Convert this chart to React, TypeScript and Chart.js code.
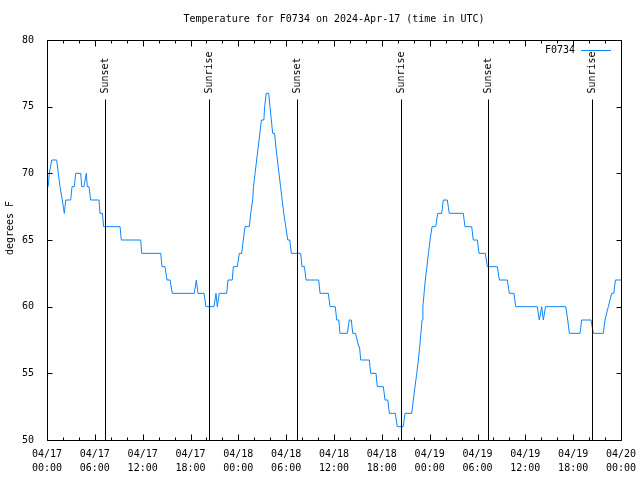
import React, { useEffect, useRef } from "react";
import { Chart, registerables } from "chart.js";

Chart.register(...registerables);

// Hours since 2024-04-17 00:00 UTC
const hours = [
  0.15, 0.29, 0.59, 1.22, 1.42, 1.63, 1.92, 2.17, 2.35, 2.97, 3.14, 3.42, 3.6, 4.23, 4.35, 4.64, 4.93, 5.06, 5.27, 5.48,
  6.52, 6.65, 6.95, 7.1, 9.16, 9.32, 11.75, 11.88, 14.26, 14.43, 14.8, 15.05, 15.43, 15.72, 18.48, 18.73, 18.94, 19.69,
  19.94, 20.95, 21.2, 21.36, 21.6, 22.54, 22.7, 23.24, 23.37, 23.87, 24.12, 24.42, 24.62, 24.84, 25.38, 25.55, 25.8,
  25.9, 26.1, 26.3, 26.5, 26.7, 26.9, 27.2, 27.3, 27.5, 27.81, 27.97, 28.14, 28.31, 28.55, 28.7, 28.9, 29.1, 29.3,
  29.5, 29.7, 29.95, 30.2, 30.45, 30.65, 31.82, 31.99, 32.3, 32.49, 34.08, 34.25, 35.29, 35.5, 36.16, 36.34, 36.6,
  36.75, 37.67, 37.92, 38.17, 38.35, 38.7, 39.1, 39.2, 39.35, 40.43, 40.6, 41.27, 41.43, 42.19, 42.4, 42.75, 42.94,
  43.69, 43.94, 44.69, 44.91, 45.75, 45.95, 46.16, 46.38, 46.58, 46.75, 46.9, 47.05, 47.15, 47.3, 47.45, 47.65, 47.85,
  48.05, 48.3, 48.76, 49.01, 49.51, 49.71, 50.21, 50.46, 52.22, 52.43, 53.27, 53.47, 53.98, 54.19, 54.98, 55.23, 56.49,
  56.74, 57.74, 57.99, 58.58, 58.79, 61.5, 61.75, 62.05, 62.26, 62.53, 65.07, 65.32, 65.52, 66.86, 67.07, 68.24, 68.53,
  69.78, 69.99, 70.41, 70.83, 71.1, 71.3, 72.0,
];
const temps = [
  69, 70, 71, 71, 70, 69, 68, 67, 68, 68, 69, 69, 70, 70, 69, 69, 70, 69, 69, 68,
  68, 67, 67, 66, 66, 65, 65, 64, 64, 63, 63, 62, 62, 61, 61, 62, 61, 61,
  60, 60, 61, 60, 61, 61, 62, 62, 63, 63, 64, 64, 65, 66, 66, 67, 68,
  69, 70, 71, 72, 73, 74, 74, 75, 76, 76, 75, 74, 73, 73, 72, 71, 70, 69,
  68, 67, 66, 65, 65, 64, 64, 63, 63, 62, 62, 61, 61, 60, 60, 59, 59,
  58, 58, 59, 59, 58, 58, 57, 57, 56, 56, 55, 55, 54, 54, 53, 53, 52,
  52, 51, 51, 52, 52, 53, 54, 55, 56, 57, 58, 59, 60, 61, 62, 63, 64,
  65, 66, 66, 67, 67, 68, 68, 67, 67, 66, 66, 65, 65, 64, 64, 63, 63,
  62, 62, 61, 61, 60, 60, 59, 60, 59, 60, 60, 59, 58, 58, 59, 59, 58,
  58, 59, 60, 61, 61, 62, 62,
];

const eventHours = [7.28, 20.35, 31.3, 44.35, 55.3, 68.35];
const eventLabels = ["Sunset", "Sunrise", "Sunset", "Sunrise", "Sunset", "Sunrise"];

const xTickValues = [0, 6, 12, 18, 24, 30, 36, 42, 48, 54, 60, 66, 72];
const xTickDates = ["04/17", "04/17", "04/17", "04/17", "04/18", "04/18", "04/18", "04/18", "04/19", "04/19", "04/19", "04/19", "04/20"];
const xTickTimes = ["00:00", "06:00", "12:00", "18:00", "00:00", "06:00", "12:00", "18:00", "00:00", "06:00", "12:00", "18:00", "00:00"];
const yTickValues = [50, 55, 60, 65, 70, 75, 80];

const seriesName = "F0734";
const titleText = "Temperature for F0734 on 2024-Apr-17 (time in UTC)";
const yTitle = "degrees F";

const FONT = "'DejaVu Sans Mono', monospace";
const LINE_COLOR = "#0a84ff";

const overlay = {
  id: "gnuplotOverlay",
  afterDatasetsDraw(chart: any) {
    const ctx = chart.ctx;
    const { left, right, top, bottom } = chart.chartArea;
    const xs = chart.scales.x;
    const ys = chart.scales.y;
    const L = Math.round(left) + 0.5;
    const R = Math.round(right) + 0.5;
    const T = Math.round(top) + 0.5;
    const B = Math.round(bottom) + 0.5;
    ctx.save();
    ctx.strokeStyle = "#000";
    ctx.lineWidth = 1;
    ctx.beginPath();
    ctx.rect(L, T, R - L, B - T);
    ctx.stroke();
    ctx.beginPath();
    for (let v = 0; v <= 72; v += 2) {
      const px = Math.round(xs.getPixelForValue(v)) + 0.5;
      const len = v % 6 === 0 ? 6 : 3;
      ctx.moveTo(px, B);
      ctx.lineTo(px, B - len);
      ctx.moveTo(px, T);
      ctx.lineTo(px, T + len);
    }
    yTickValues.forEach((v) => {
      const py = Math.round(ys.getPixelForValue(v)) + 0.5;
      ctx.moveTo(L, py);
      ctx.lineTo(L + 5, py);
      ctx.moveTo(R, py);
      ctx.lineTo(R - 5, py);
    });
    ctx.stroke();
    ctx.beginPath();
    eventHours.forEach((h) => {
      const px = Math.round(xs.getPixelForValue(h)) + 0.5;
      ctx.moveTo(px, T + 59);
      ctx.lineTo(px, B);
    });
    ctx.stroke();
    ctx.fillStyle = "#000";
    ctx.font = `10px ${FONT}`;
    ctx.textBaseline = "middle";
    eventHours.forEach((h, i) => {
      const px = Math.round(xs.getPixelForValue(h));
      ctx.save();
      ctx.translate(px + 0.5, T + 53);
      ctx.rotate(-Math.PI / 2);
      ctx.textAlign = "left";
      ctx.fillText(eventLabels[i], 0, 0);
      ctx.restore();
    });
    ctx.textAlign = "center";
    ctx.fillText(titleText, 334, 19);
    ctx.save();
    ctx.translate(10, 228);
    ctx.rotate(-Math.PI / 2);
    ctx.textAlign = "center";
    ctx.fillText(yTitle, 0, 0);
    ctx.restore();
    ctx.textAlign = "right";
    ctx.fillText(seriesName, 575, 50);
    ctx.strokeStyle = LINE_COLOR;
    ctx.beginPath();
    ctx.moveTo(581, 50.5);
    ctx.lineTo(611, 50.5);
    ctx.stroke();
    ctx.restore();
  },
};

export default function App() {
  const ref = useRef<HTMLCanvasElement | null>(null);
  useEffect(() => {
    if (!ref.current) return;
    const chart = new Chart(ref.current, {
      type: "line",
      data: {
        datasets: [
          {
            label: seriesName,
            data: hours.map((h, i) => ({ x: h, y: temps[i] })),
            borderColor: LINE_COLOR,
            borderWidth: 1,
            pointRadius: 0,
            tension: 0,
            fill: false,
          },
        ],
      },
      options: {
        animation: false,
        responsive: false,
        devicePixelRatio: 1,
        layout: { padding: { top: 40, right: 19, bottom: 0, left: 0 } },
        plugins: { legend: { display: false }, title: { display: false }, tooltip: { enabled: false } },
        scales: {
          x: {
            type: "linear",
            min: 0,
            max: 72,
            afterFit: (s: any) => {
              s.height = 40;
              s.paddingLeft = 0;
              s.paddingRight = 0;
            },
            afterBuildTicks: (s: any) => {
              s.ticks = xTickValues.map((v) => ({ value: v }));
            },
            grid: { display: false, drawTicks: false },
            border: { display: false },
            ticks: {
              autoSkip: false,
              maxRotation: 0,
              minRotation: 0,
              padding: 7,
              color: "#000",
              font: { family: FONT, size: 10, lineHeight: 1.4 },
              callback: (v: any) => {
                const i = xTickValues.indexOf(Number(v));
                return i >= 0 ? [xTickDates[i], xTickTimes[i]] : "";
              },
            },
          },
          y: {
            type: "linear",
            min: 50,
            max: 80,
            afterFit: (s: any) => {
              s.width = 47;
              s.paddingTop = 0;
              s.paddingBottom = 0;
            },
            afterBuildTicks: (s: any) => {
              s.ticks = yTickValues.map((v) => ({ value: v }));
            },
            grid: { display: false, drawTicks: false },
            border: { display: false },
            ticks: {
              padding: 13,
              color: "#000",
              font: { family: FONT, size: 10 },
            },
          },
        },
      },
      plugins: [overlay],
    });
    return () => chart.destroy();
  }, []);
  return (
    <div style={{ position: "absolute", left: 0, top: 0, width: 640, height: 480, background: "#fff" }}>
      <canvas ref={ref} width={640} height={480} style={{ display: "block" }} />
    </div>
  );
}
